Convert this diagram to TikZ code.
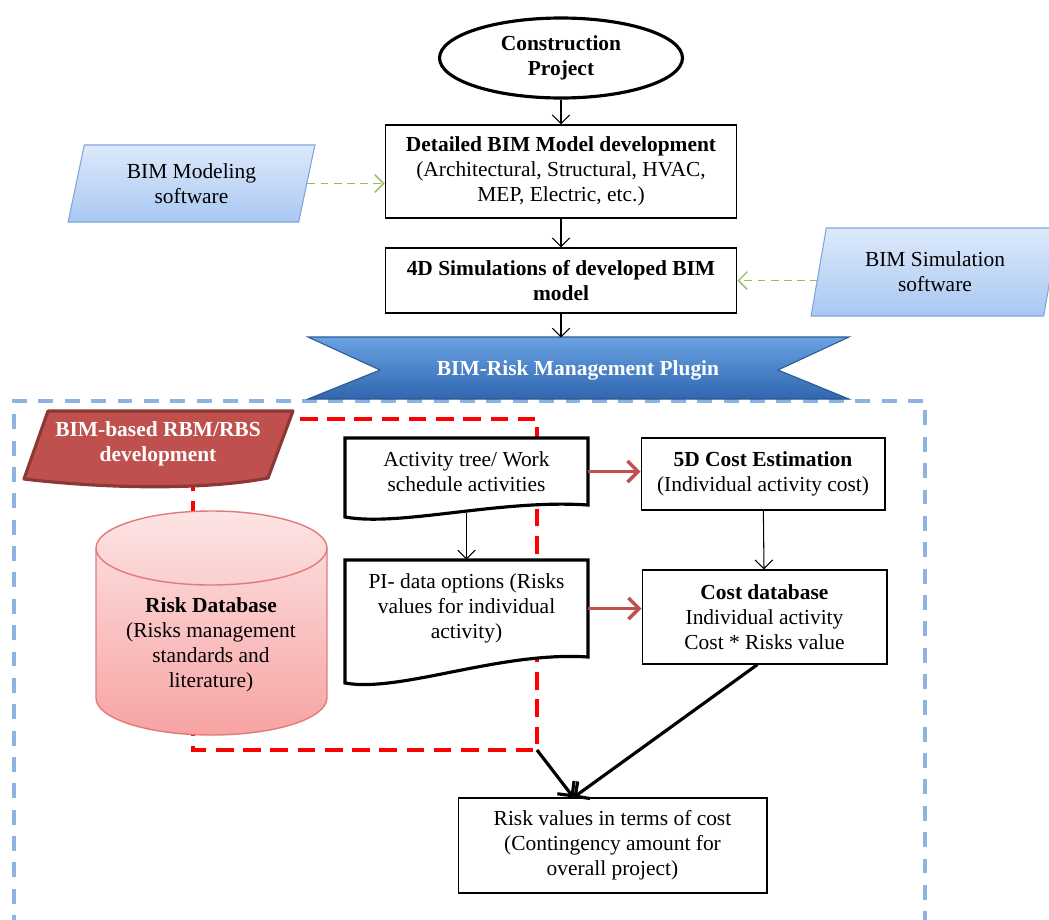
\documentclass[tikz,border=0pt]{standalone}
\usepackage{fontspec}
\setmainfont{Liberation Serif}
\usetikzlibrary{shapes.geometric, arrows.meta, positioning, calc}

\definecolor{rbsred}{HTML}{C0504D}
\definecolor{rbsedge}{HTML}{8C3836}
\definecolor{swtop}{HTML}{DDE9FB}
\definecolor{swbot}{HTML}{A9C8F2}
\definecolor{swedge}{HTML}{7DA5DA}
\definecolor{swgreen}{HTML}{9BBB59}
\definecolor{plugtop}{HTML}{6AA2E4}
\definecolor{plugmid}{HTML}{3F7ECC}
\definecolor{plugbot}{HTML}{2F66AE}
\definecolor{plugedge}{HTML}{2A5A95}
\definecolor{frameblue}{HTML}{8DB3E2}
\definecolor{dbtop}{HTML}{FDE4E4}
\definecolor{dbbot}{HTML}{F8A3A3}
\definecolor{dbedge}{HTML}{E07B7B}

\begin{document}
\begin{tikzpicture}[
  x=0.02cm, y=-0.02cm,
  every node/.style={font=\fontsize{12.2}{14.2}\selectfont},
  box/.style={draw, line width=0.6pt, fill=white, align=center, inner sep=1pt},
  startnode/.style={ellipse, draw, line width=1.8pt, fill=white, align=center,
              minimum width=4.86cm, minimum height=1.6cm,
              font=\fontsize{12.2}{14.2}\selectfont\bfseries},
  doctext/.style={align=center, inner sep=1pt, minimum width=4.86cm},
  docline/.style={draw, fill=white, line width=1.8pt},
  swbox/.style={trapezium, trapezium left angle=77, trapezium right angle=103,
              trapezium stretches=true, draw=swedge, line width=0.6pt,
              top color=swtop, bottom color=swbot, align=center,
              minimum width=4.98cm, inner sep=1pt},
  arr/.style={-{Straight Barb[length=5pt, width=10pt]}, line width=0.6pt},
  greenarr/.style={-{Straight Barb[length=5pt, width=10pt]}, draw=swgreen,
              dash pattern=on 4.5pt off 3pt, line width=0.8pt},
  redarr/.style={-{Straight Barb[length=6pt, width=12pt]}, draw=rbsred, line width=2pt},
  bigarr/.style={-{Straight Barb[length=6pt, width=12pt]}, line width=1.8pt},
  rbsframe/.style={draw=red, line width=2.2pt, dash pattern=on 10pt off 5.5pt},
  plugframe/.style={draw=frameblue, line width=2.2pt, dash pattern=on 8.5pt off 6.5pt}
]
\useasboundingbox (0,0) rectangle (1049,920);

% frames
\draw[plugframe] (14,930) -- (14,401) -- (925,401) -- (925,930);
\draw[rbsframe] (193,419) rectangle (537,750);

% top of the flow
\node[startnode] (project) at (561,58) {Construction\\Project};
\node[box, minimum width=7.04cm, minimum height=1.86cm] (bimmodel) at (561,171.5)
  {\textbf{Detailed BIM Model development}\\(Architectural, Structural, HVAC,\\MEP, Electric, etc.)};
\node[box, minimum width=7.04cm, minimum height=1.3cm,
      font=\fontsize{12.2}{14.2}\selectfont\bfseries] (bim4d) at (561,280.5)
  {4D Simulations of developed BIM\\model};

\node[swbox, minimum height=1.54cm] (modsw) at (191.5,183.5) {BIM Modeling\\software};
\node[swbox, minimum height=1.76cm] (simsw) at (935,272) {BIM Simulation\\software};

% plugin banner
\draw[draw=plugedge, line width=0.6pt, top color=plugtop, middle color=plugmid, bottom color=plugbot]
  (308,337) -- (849,337) -- (778,370) -- (849,399) -- (308,399) -- (380,370) -- cycle;
\node[text=white, minimum height=1.28cm,
      font=\fontsize{12.2}{14.2}\selectfont\bfseries] (plugin) at (578,370) {BIM-Risk Management Plugin};

% RBM/RBS and risk database
\draw[draw=rbsedge, fill=rbsred, line width=1.8pt, line join=round]
  (48,411) -- (293,411) -- (268,478) .. controls (200,491) and (100,488) .. (24,479) -- cycle;
\node[text=white, align=center, font=\fontsize{12.2}{14.2}\selectfont\bfseries] (rbs) at (158,444)
  {BIM-based RBM/RBS\\development};

\draw[draw=dbedge, line width=0.8pt, top color=dbtop, bottom color=dbbot]
  (96,548) -- (96,698) arc[start angle=180, end angle=360, x radius=2.31cm, y radius=0.74cm]
  -- (327,548) arc[start angle=0, end angle=180, x radius=2.31cm, y radius=0.74cm] -- cycle;
\draw[draw=dbedge, line width=0.8pt]
  (96,548) arc[start angle=180, end angle=360, x radius=2.31cm, y radius=0.74cm];
\node[align=center] (riskdb) at (211,645)
  {\textbf{Risk Database}\\(Risks management\\standards and\\literature)};

% activity documents
\draw[docline] (588,505) -- (588,438) -- (345,438) -- (345,517)
  .. controls (400,527) and (500,499) .. cycle;
\node[doctext, minimum height=1.34cm] (acts) at (466.5,471.5)
  {Activity tree/ Work\\schedule activities};
\draw[docline] (588,657) -- (588,560) -- (345,560) -- (345,683)
  .. controls (400,693) and (500,651) .. cycle;
\node[doctext, minimum height=1.94cm] (pidata) at (466.5,608.5)
  {PI- data options (Risks\\values for individual\\activity)};

% cost side
\node[box, minimum width=4.88cm, minimum height=1.44cm] (fived) at (763,474)
  {\textbf{5D Cost Estimation}\\(Individual activity cost)};
\node[box, minimum width=4.9cm, minimum height=1.88cm] (costdb) at (764.5,617)
  {\textbf{Cost database}\\Individual activity\\Cost * Risks value};
\node[box, minimum width=6.18cm, minimum height=1.9cm] (riskcost) at (612.5,845.5)
  {Risk values in terms of cost\\(Contingency amount for\\overall project)};

\coordinate (rbscorner) at (537,750);

% connectors
\draw[arr] (project) -- (bimmodel);
\draw[arr] (bimmodel) -- (bim4d);
\draw[arr] (bim4d.south) -- (bim4d.south |- plugin.north);
\draw[greenarr] (modsw.east) -- (modsw.east -| bimmodel.west);
\draw[greenarr] (simsw.west |- bim4d.east) -- (bim4d.east);
\draw[arr] ($(acts.south)+(0,8)$) -- (pidata);
\draw[redarr] (acts.east) -- (acts.east -| fived.west);
\draw[redarr] (pidata.east) -- (pidata.east -| costdb.west);
\draw[arr] (fived) -- (costdb);
\draw[bigarr] ($(costdb.south)+(-7,0)$) -- ($(riskcost.north)+(-39,0)$);
\draw[bigarr] (rbscorner) -- ($(riskcost.north)+(-39,0)$);

\end{tikzpicture}
\end{document}
